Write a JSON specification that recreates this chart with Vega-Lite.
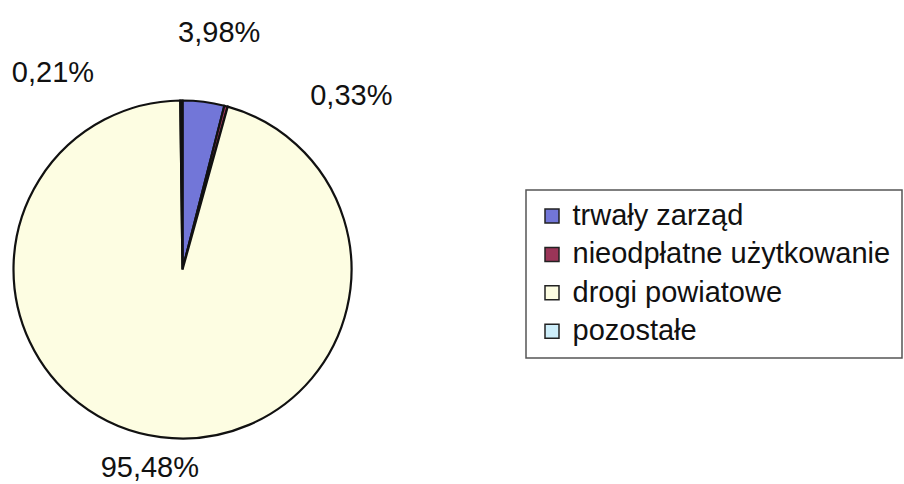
{
  "$schema": "https://vega.github.io/schema/vega-lite/v6.json",
  "autosize": {"type": "none"},
  "padding": {"left": 0, "top": 55, "right": 539, "bottom": 0},
  "width": 365,
  "height": 429,
  "background": "white",
  "config": {
    "view": {"stroke": null},
    "font": "Liberation Sans",
    "text": {"font": "Liberation Sans", "fontSize": 29, "fill": "#111111"}
  },
  "data": {
    "values": [
      {"kategoria": "trwały zarząd", "udzial": 3.98, "etykieta": "3,98%", "kolejnosc": 1},
      {"kategoria": "nieodpłatne użytkowanie", "udzial": 0.33, "etykieta": "0,33%", "kolejnosc": 2},
      {"kategoria": "drogi powiatowe", "udzial": 95.48, "etykieta": "95,48%", "kolejnosc": 3},
      {"kategoria": "pozostałe", "udzial": 0.21, "etykieta": "0,21%", "kolejnosc": 4}
    ]
  },
  "encoding": {
    "theta": {"field": "udzial", "type": "quantitative", "stack": true},
    "order": {"field": "kolejnosc", "type": "quantitative"}
  },
  "layer": [
    {
      "mark": {"type": "arc", "outerRadius": 169, "stroke": "#111111", "strokeWidth": 2.2},
      "encoding": {
        "color": {
          "field": "kategoria",
          "type": "nominal",
          "scale": {
            "domain": ["trwały zarząd", "nieodpłatne użytkowanie", "drogi powiatowe", "pozostałe"],
            "range": ["#7276d8", "#9b3558", "#fdfde2", "#cdeefa"]
          },
          "legend": {
            "title": null,
            "orient": "none",
            "legendX": 526,
            "legendY": 135,
            "labelFont": "Liberation Sans",
            "labelFontSize": 29,
            "labelColor": "#111111",
            "labelLimit": 500,
            "labelOffset": 6,
            "symbolType": "square",
            "symbolSize": 196,
            "symbolStrokeColor": "#222222",
            "symbolStrokeWidth": 1.5,
            "rowPadding": 8.4,
            "padding": 11.5,
            "strokeColor": "#555555",
            "fillColor": "white",
            "encode": {"legend": {"update": {"strokeWidth": {"value": 1.5}}}}
          }
        }
      }
    },
    {
      "mark": {"type": "text", "radius": 238, "dx": 7},
      "encoding": {"text": {"condition": {"test": "datum.kategoria === 'trwały zarząd'", "field": "etykieta"}, "value": ""}}
    },
    {
      "mark": {"type": "text", "radius": 240, "dx": 107, "dy": 58},
      "encoding": {"text": {"condition": {"test": "datum.kategoria === 'nieodpłatne użytkowanie'", "field": "etykieta"}, "value": ""}}
    },
    {
      "mark": {"type": "text", "radius": 200, "dx": -7},
      "encoding": {"text": {"condition": {"test": "datum.kategoria === 'drogi powiatowe'", "field": "etykieta"}, "value": ""}}
    },
    {
      "mark": {"type": "text", "radius": 235, "dx": -128, "dy": 38},
      "encoding": {"text": {"condition": {"test": "datum.kategoria === 'pozostałe'", "field": "etykieta"}, "value": ""}}
    }
  ]
}
